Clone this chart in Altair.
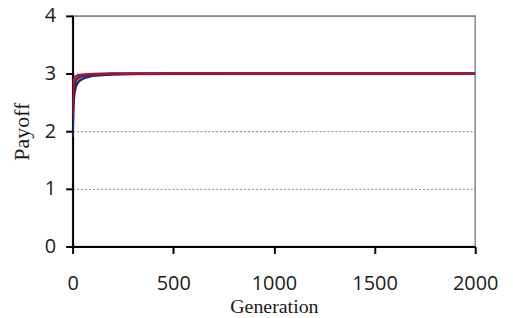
import altair as alt
import pandas as pd

gen_blue = [0, 2, 4, 6, 10, 15, 20, 30, 40, 60, 80, 100, 150, 200, 300, 500, 1000, 1500, 2000]
pay_blue = [1.9, 2.2, 2.42, 2.55, 2.68, 2.76, 2.81, 2.86, 2.89, 2.925, 2.945, 2.96, 2.975, 2.985, 2.993, 2.998, 3.0, 3.0, 3.0]

gen_dark = [0, 2, 4, 6, 10, 15, 20, 30, 40, 60, 80, 100, 150, 200, 300, 500, 1000, 1500, 2000]
pay_dark = [2.2, 2.45, 2.6, 2.7, 2.8, 2.86, 2.9, 2.93, 2.95, 2.965, 2.975, 2.982, 2.99, 2.995, 2.998, 3.0, 3.0, 3.0, 3.0]

gen_red = [0, 1, 2, 4, 6, 10, 15, 20, 30, 50, 80, 100, 150, 200, 500, 1000, 1500, 2000]
pay_red = [2.3, 2.6, 2.75, 2.86, 2.9, 2.93, 2.95, 2.96, 2.97, 2.98, 2.99, 2.993, 2.997, 3.0, 3.0, 3.0, 3.0, 3.0]

series = ["blue", "dark", "red"]
colors = ["#1B2A8A", "#5A1646", "#A3182E"]

x_ticks = [0, 500, 1000, 1500, 2000]
y_ticks = [0, 1, 2, 3, 4]

rows = []
for g, p in zip(gen_blue, pay_blue):
    rows.append({"Generation": g, "Payoff": p, "s": "blue"})
for g, p in zip(gen_dark, pay_dark):
    rows.append({"Generation": g, "Payoff": p, "s": "dark"})
for g, p in zip(gen_red, pay_red):
    rows.append({"Generation": g, "Payoff": p, "s": "red"})
df = pd.DataFrame(rows)

chart = alt.Chart(df).mark_line(strokeWidth=2.5, clip=True).encode(
    x=alt.X("Generation:Q",
            scale=alt.Scale(domain=[0, 2000], nice=False, zero=True),
            axis=alt.Axis(title="Generation", values=x_ticks, format="d", grid=False,
                          domainColor="#000000", domainWidth=2, tickColor="#000000", tickWidth=2,
                          tickSize=7, labelFont="Open Sans", labelFontSize=20, labelColor="#1a1a1a",
                          labelPadding=20, titleFont="Liberation Serif", titleFontSize=20,
                          titleFontWeight="normal", titleColor="#1a1a1a", titleY=66,
                          titleBaseline="alphabetic", labelFlush=False)),
    y=alt.Y("Payoff:Q",
            scale=alt.Scale(domain=[0, 4], nice=False),
            axis=alt.Axis(title="Payoff", values=y_ticks, grid=True,
                          gridDash={"condition": {"test": "datum.value == 4", "value": []}, "value": [2, 2]},
                          gridColor="#888888", gridWidth=1,
                          domainColor="#000000", domainWidth=2, tickColor="#000000", tickWidth=2,
                          tickSize=7, labelFont="Open Sans", labelFontSize=20, labelColor="#1a1a1a",
                          labelPadding=10, titleFont="Liberation Serif", titleFontSize=22,
                          titleFontWeight="normal", titleColor="#1a1a1a", titleX=-44,
                          titleBaseline="alphabetic")),
    color=alt.Color("s:N", scale=alt.Scale(domain=series, range=colors), legend=None),
    order=alt.Order("Generation:Q"),
).properties(
    width=405, height=232,
    autosize=alt.AutoSizeParams(type="none"),
    padding={"left": 65, "top": 7, "right": 30, "bottom": 72},
).configure_view(stroke="#888888", strokeWidth=1.5)

chart.save("out.html", embed_options={"renderer": "svg", "actions": False})
